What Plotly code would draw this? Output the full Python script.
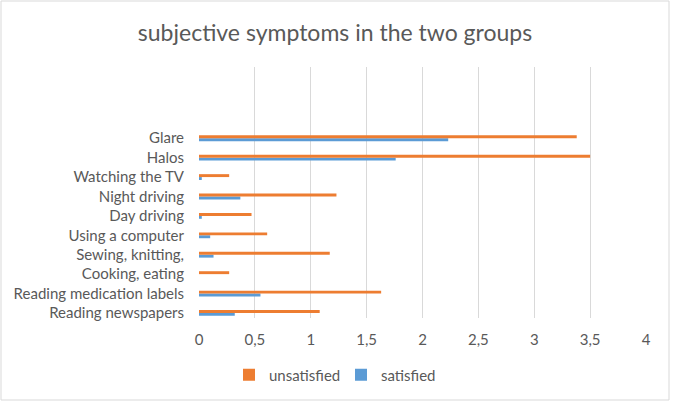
import plotly.graph_objects as go

categories = ["Reading newspapers", "Reading medication labels", "Cooking, eating",
              "Sewing, knitting,", "Using a computer", "Day driving", "Night driving",
              "Watching the TV", "Halos", "Glare"]
unsatisfied = [1.08, 1.63, 0.27, 1.17, 0.61, 0.47, 1.23, 0.27, 3.5, 3.38]
satisfied = [0.32, 0.55, 0.0, 0.13, 0.10, 0.025, 0.37, 0.025, 1.76, 2.23]
x_ticks = [0, 0.5, 1, 1.5, 2, 2.5, 3, 3.5, 4]
x_tick_labels = ["0", "0,5", "1", "1,5", "2", "2,5", "3", "3,5", "4"]

W, H = 677, 407
ML, MR, MT, MB = 199, 31, 67, 89
pw, ph = W - ML - MR, H - MT - MB

FONT = "Lato, Calibri, sans-serif"
GREY = "#595959"

fig = go.Figure()
fig.add_trace(go.Bar(y=categories, x=satisfied, name="satisfied", orientation="h",
                     marker=dict(color="#5b9bd5", line=dict(width=0)), legendrank=2))
fig.add_trace(go.Bar(y=categories, x=unsatisfied, name="unsatisfied", orientation="h",
                     marker=dict(color="#ed7d31", line=dict(width=0)), legendrank=1))

def px_x(p):
    return (p - ML) / pw

def px_y(p):
    return (H - MB - p) / ph

fig.update_layout(
    width=W, height=H,
    margin=dict(l=ML, r=MR, t=MT, b=MB),
    paper_bgcolor="white", plot_bgcolor="white",
    barmode="group", bargap=0.7, bargroupgap=0,
    title=dict(text="subjective symptoms in the two groups", x=335 / W, xanchor="center",
               y=1 - 33 / H, yanchor="middle", xref="container", yref="container",
               font=dict(family=FONT, size=23, color=GREY)),
    font=dict(family=FONT, size=15, color=GREY),
    xaxis=dict(range=[0, 4], tickvals=x_ticks, ticktext=x_tick_labels,
               showgrid=True, gridcolor="#d9d9d9", gridwidth=1, zeroline=False,
               showline=False, ticks="", ticklabelstandoff=11,
               tickfont=dict(family=FONT, size=15, color=GREY)),
    yaxis=dict(type="category", categoryorder="array", categoryarray=categories,
               range=[-0.26, 12.67], showgrid=False, zeroline=False, showline=False,
               ticks="", ticklabelstandoff=14,
               tickfont=dict(family=FONT, size=15, color=GREY)),
    legend=dict(orientation="h", x=px_x(229), xanchor="left", y=px_y(375), yanchor="middle",
                font=dict(family=FONT, size=15, color=GREY), itemwidth=30,
                entrywidth=67, traceorder="normal"),
    showlegend=True,
    shapes=[dict(type="rect", xref="paper", yref="paper",
                 x0=px_x(1), x1=px_x(669), y0=px_y(400), y1=px_y(1),
                 line=dict(color="#d9d9d9", width=1), fillcolor="rgba(0,0,0,0)", layer="below")],
)

fig.write_html("out.html", config={"displayModeBar": False},
               post_script="document.body.style.margin='0';document.body.style.overflow='hidden';")
